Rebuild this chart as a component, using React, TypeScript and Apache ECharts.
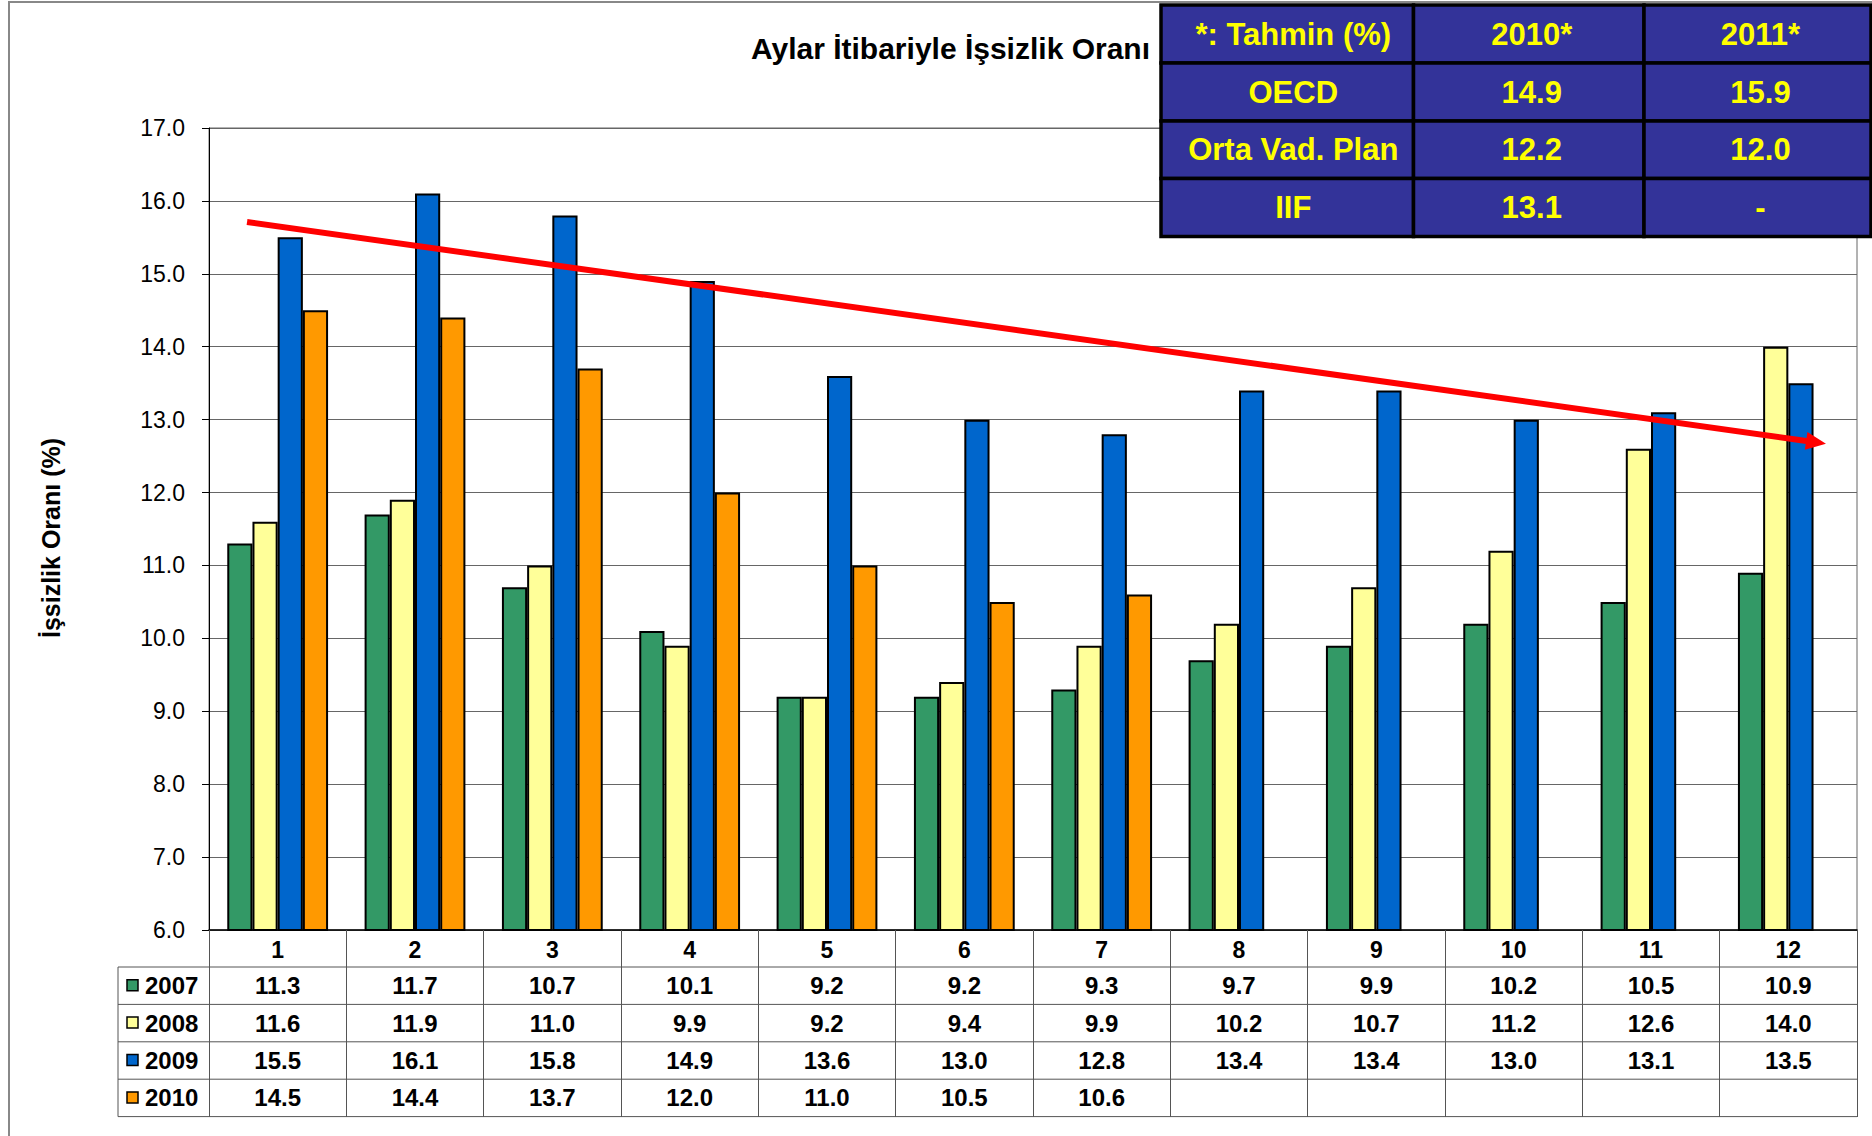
import React, { useEffect, useRef } from "react";
import * as echarts from "echarts";

// ---------- data ----------
const months = ["1", "2", "3", "4", "5", "6", "7", "8", "9", "10", "11", "12"];
const years = ["2007", "2008", "2009", "2010"];
const s2007 = [11.3, 11.7, 10.7, 10.1, 9.2, 9.2, 9.3, 9.7, 9.9, 10.2, 10.5, 10.9];
const s2008 = [11.6, 11.9, 11.0, 9.9, 9.2, 9.4, 9.9, 10.2, 10.7, 11.2, 12.6, 14.0];
const s2009 = [15.5, 16.1, 15.8, 14.9, 13.6, 13.0, 12.8, 13.4, 13.4, 13.0, 13.1, 13.5];
const s2010: (number | null)[] = [14.5, 14.4, 13.7, 12.0, 11.0, 10.5, 10.6, null, null, null, null, null];
const yMin = 6;
const yMax = 17;
const yStep = 1;
const barColors = ["#339966", "#FFFF99", "#0066CC", "#FF9900"];

const chartTitle = "Aylar İtibariyle İşsizlik Oranı";
const yAxisName = "İşsizlik Oranı (%)";

const forecastHeader = ["*: Tahmin (%)", "2010*", "2011*"];
const forecastRows = [
  ["OECD", "14.9", "15.9"],
  ["Orta Vad. Plan", "12.2", "12.0"],
  ["IIF", "13.1", "-"],
];

// trend arrow (category index position, value)
const trendStart = { idx: -0.223, value: 15.71 };
const trendEnd = { idx: 11.274, value: 12.67 };

const FONT = "'Liberation Sans', Arial, Helvetica, sans-serif";

export default function App() {
  const ref = useRef<HTMLDivElement>(null);

  useEffect(() => {
    const el = ref.current!;
    const chart = echarts.init(el, null, { renderer: "svg" });
    const seriesData = [s2007, s2008, s2009, s2010];

    chart.setOption({
      animation: false,
      backgroundColor: "#ffffff",
      title: {
        text: chartTitle,
        right: 722,
        top: 33,
        padding: 0,
        textStyle: { fontSize: 30, fontWeight: "bold", color: "#000", fontFamily: FONT },
      },
      grid: {
        left: 209,
        top: 128,
        right: 15,
        bottom: 206,
        show: true,
        borderColor: "#666",
        borderWidth: 1,
        backgroundColor: "transparent",
      },
      xAxis: {
        type: "category",
        data: months,
        axisLine: { lineStyle: { color: "#000", width: 1.5 } },
        axisTick: { show: true, interval: 0, length: 187, lineStyle: { color: "#555", width: 1 } },
        axisLabel: {
          interval: 0,
          fontSize: 23,
          fontWeight: "bold",
          color: "#000",
          margin: 8,
          fontFamily: FONT,
        },
        splitLine: { show: false },
      },
      yAxis: {
        type: "value",
        min: yMin,
        max: yMax,
        interval: yStep,
        axisLine: { show: true, lineStyle: { color: "#000", width: 1 } },
        axisTick: { show: true, length: 7, lineStyle: { color: "#000" } },
        axisLabel: {
          formatter: (v: number) => v.toFixed(1),
          fontSize: 23,
          color: "#000",
          margin: 24,
          fontFamily: FONT,
        },
        splitLine: { lineStyle: { color: "#666", width: 1 } },
      },
      series: years.map((y, i) => ({
        type: "bar",
        name: y,
        data: seriesData[i],
        barWidth: 25.2,
        barGap: "0%",
        itemStyle: { color: barColors[i], borderColor: "#000", borderWidth: 2 },
        z: 2,
      })),
    });

    const px = (i: number) => chart.convertToPixel({ xAxisIndex: 0 }, i) as number;
    const py = (v: number) => chart.convertToPixel({ yAxisIndex: 0 }, v) as number;
    const x0 = px(0);
    const step = px(1) - px(0);
    const fx = (f: number) => x0 + f * step;
    const right = px(months.length - 1) + step / 2;
    const bottomY = py(yMin);
    const headerH = 37;
    const rowH = 37.4;
    const tableTop = bottomY + headerH;
    const legendLeft = 118;

    const g: any[] = [];

    // outer frame
    g.push({
      type: "rect",
      shape: { x: 9, y: 2, width: 1900, height: 1200 },
      style: { fill: "none", stroke: "#888", lineWidth: 2 },
      z: 0,
    });

    // data table lines
    for (let k = 0; k <= years.length; k++) {
      const y = tableTop + k * rowH;
      g.push({
        type: "line",
        shape: { x1: legendLeft, y1: y, x2: right, y2: y },
        style: { stroke: "#555", lineWidth: 1 },
        z: 5,
      });
    }
    g.push({
      type: "line",
      shape: { x1: legendLeft, y1: tableTop, x2: legendLeft, y2: tableTop + years.length * rowH },
      style: { stroke: "#555", lineWidth: 1 },
      z: 5,
    });

    // legend keys + values
    years.forEach((yr, r) => {
      const cy = tableTop + r * rowH + rowH / 2;
      g.push({
        type: "rect",
        shape: { x: 127, y: cy - 6, width: 11, height: 11 },
        style: { fill: barColors[r], stroke: "#000", lineWidth: 1.5 },
        z: 6,
      });
      g.push({
        type: "text",
        x: 145,
        y: cy,
        style: {
          text: yr,
          fill: "#000",
          font: `bold 24px ${FONT}`,
          textAlign: "left",
          textVerticalAlign: "middle",
        },
        z: 6,
      });
      seriesData[r].forEach((v, i) => {
        if (v === null || v === undefined) return;
        g.push({
          type: "text",
          x: px(i),
          y: cy,
          style: {
            text: (v as number).toFixed(1),
            fill: "#000",
            font: `bold 24px ${FONT}`,
            textAlign: "center",
            textVerticalAlign: "middle",
          },
          z: 6,
        });
      });
    });

    // y axis name
    g.push({
      type: "text",
      x: 51,
      y: 538,
      rotation: Math.PI / 2,
      style: {
        text: yAxisName,
        fill: "#000",
        font: `bold 25px ${FONT}`,
        textAlign: "center",
        textVerticalAlign: "middle",
      },
      z: 6,
    });

    // trend arrow
    const ax1 = fx(trendStart.idx);
    const ay1 = py(trendStart.value);
    const ax2 = fx(trendEnd.idx);
    const ay2 = py(trendEnd.value);
    const dx = ax2 - ax1;
    const dy = ay2 - ay1;
    const len = Math.sqrt(dx * dx + dy * dy);
    const ux = dx / len;
    const uy = dy / len;
    const nx = -uy;
    const ny = ux;
    const headL = 20;
    const headW = 9;
    const bx = ax2 - headL * ux;
    const by = ay2 - headL * uy;
    g.push({
      type: "line",
      shape: { x1: ax1, y1: ay1, x2: bx + ux * 2, y2: by + uy * 2 },
      style: { stroke: "#FF0000", lineWidth: 6 },
      z: 50,
    });
    g.push({
      type: "polygon",
      shape: {
        points: [
          [ax2, ay2],
          [bx + headW * nx, by + headW * ny],
          [bx - headW * nx, by - headW * ny],
        ],
      },
      style: { fill: "#FF0000" },
      z: 50,
    });

    // forecast table (top right)
    const colX = [1161, 1413.5, 1644, 1871];
    const rowY = [5, 63, 121, 178.5, 236.5];
    const allRows = [forecastHeader, ...forecastRows];
    allRows.forEach((row, r) => {
      row.forEach((cell, c) => {
        g.push({
          type: "rect",
          shape: { x: colX[c], y: rowY[r], width: colX[c + 1] - colX[c], height: rowY[r + 1] - rowY[r] },
          style: { fill: "#333399", stroke: "#000", lineWidth: 3.5 },
          z: 100,
        });
        g.push({
          type: "text",
          x: (colX[c] + colX[c + 1]) / 2 + (c === 0 ? 6 : 3),
          y: (rowY[r] + rowY[r + 1]) / 2,
          style: {
            text: cell,
            fill: "#FFFF00",
            font: `bold 31px ${FONT}`,
            textAlign: "center",
            textVerticalAlign: "middle",
          },
          z: 101,
        });
      });
    });

    chart.setOption({ graphic: g });

    return () => chart.dispose();
  }, []);

  return (
    <div
      ref={ref}
      style={{ position: "fixed", left: 0, top: 0, width: 1872, height: 1136, background: "#fff" }}
    />
  );
}
